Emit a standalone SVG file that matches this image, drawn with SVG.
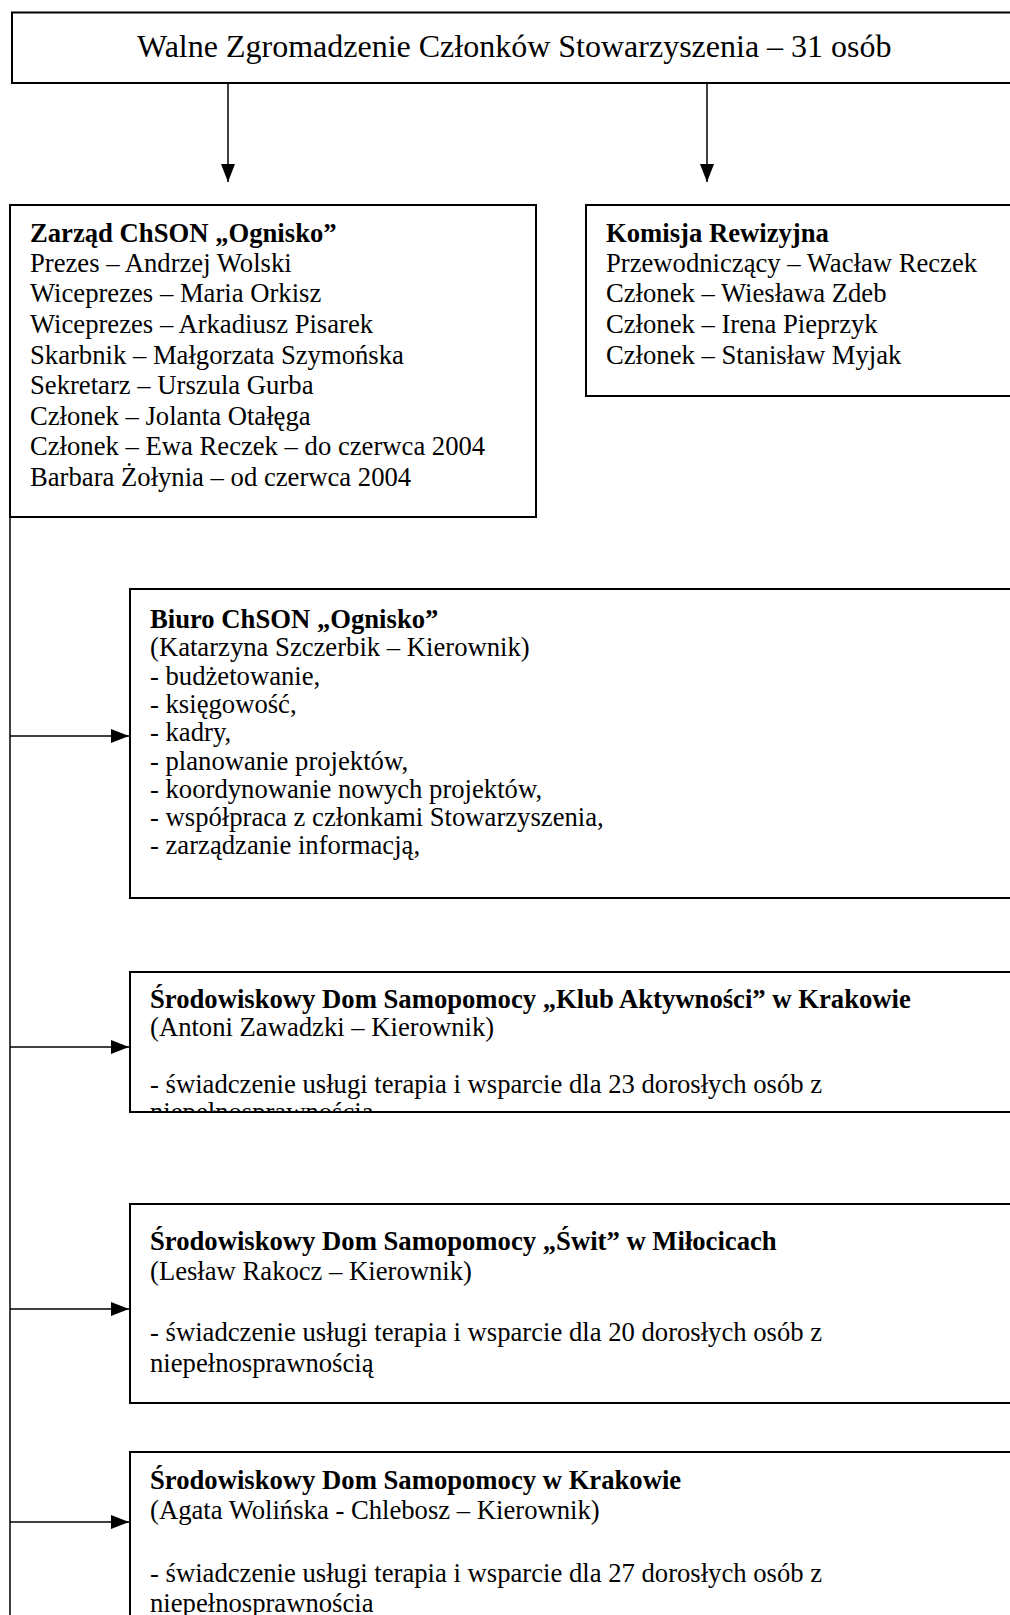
<svg xmlns="http://www.w3.org/2000/svg" width="1010" height="1615" viewBox="0 0 1010 1615">
<style>
.box{fill:#fff;stroke:#000;stroke-width:2}
.t{font-family:"Liberation Serif","Times New Roman",serif;font-size:26.67px;fill:#000}
.b{font-weight:bold}
.big{font-size:32px}
.c{fill:none;stroke:#000;stroke-width:1.5}
</style>
<defs>
<marker id="ah" markerUnits="userSpaceOnUse" markerWidth="19" markerHeight="15" refX="18" refY="7" orient="auto">
<path d="M0,0 L18,7 L0,14 Z" fill="#000"/>
</marker>
<clipPath id="clipKlub"><rect x="130" y="972" width="900" height="140"/></clipPath>
</defs>
<rect width="1010" height="1615" fill="#fff"/>

<g id="connectors">
<line class="c" x1="228" y1="83" x2="228" y2="182" marker-end="url(#ah)"/>
<line class="c" x1="707" y1="83" x2="707" y2="182" marker-end="url(#ah)"/>
<line class="c" x1="10" y1="517" x2="10" y2="1615"/>
<line class="c" x1="10" y1="736" x2="129" y2="736" marker-end="url(#ah)"/>
<line class="c" x1="10" y1="1047" x2="129" y2="1047" marker-end="url(#ah)"/>
<line class="c" x1="10" y1="1309" x2="129" y2="1309" marker-end="url(#ah)"/>
<line class="c" x1="10" y1="1522" x2="129" y2="1522" marker-end="url(#ah)"/>
</g>

<g id="walne">
<rect class="box" x="12" y="12.5" width="1020" height="70.5"/>
<text class="t big" x="137" y="57">Walne Zgromadzenie Członków Stowarzyszenia – 31 osób</text>
</g>

<g id="zarzad">
<rect class="box" x="10" y="205" width="526" height="312"/>
<text class="t b" x="30" y="241.5">Zarząd ChSON „Ognisko”</text>
<text class="t" x="30" y="271.8">Prezes – Andrzej Wolski</text>
<text class="t" x="30" y="302.4">Wiceprezes – Maria Orkisz</text>
<text class="t" x="30" y="333">Wiceprezes – Arkadiusz Pisarek</text>
<text class="t" x="30" y="363.6">Skarbnik – Małgorzata Szymońska</text>
<text class="t" x="30" y="394.2">Sekretarz – Urszula Gurba</text>
<text class="t" x="30" y="424.8">Członek – Jolanta Otałęga</text>
<text class="t" x="30" y="455.4">Członek – Ewa Reczek – do czerwca 2004</text>
<text class="t" x="30" y="486">Barbara Żołynia – od czerwca 2004</text>
</g>

<g id="komisja">
<rect class="box" x="586" y="205" width="450" height="191"/>
<text class="t b" x="606" y="241.5">Komisja Rewizyjna</text>
<text class="t" x="606" y="271.8">Przewodniczący – Wacław Reczek</text>
<text class="t" x="606" y="302.4">Członek – Wiesława Zdeb</text>
<text class="t" x="606" y="333">Członek – Irena Pieprzyk</text>
<text class="t" x="606" y="363.6">Członek – Stanisław Myjak</text>
</g>

<g id="biuro">
<rect class="box" x="130" y="589" width="900" height="309"/>
<text class="t b" x="150" y="628">Biuro ChSON „Ognisko”</text>
<text class="t" x="150" y="656.3">(Katarzyna Szczerbik – Kierownik)</text>
<text class="t" x="150" y="684.6">- budżetowanie,</text>
<text class="t" x="150" y="712.9">- księgowość,</text>
<text class="t" x="150" y="741.2">- kadry,</text>
<text class="t" x="150" y="769.5">- planowanie projektów,</text>
<text class="t" x="150" y="797.8">- koordynowanie nowych projektów,</text>
<text class="t" x="150" y="826.1">- współpraca z członkami Stowarzyszenia,</text>
<text class="t" x="150" y="854.4">- zarządzanie informacją,</text>
</g>

<g id="klub">
<rect class="box" x="130" y="972" width="900" height="140"/>
<g clip-path="url(#clipKlub)">
<text class="t b" x="150" y="1008">Środowiskowy Dom Samopomocy „Klub Aktywności” w Krakowie</text>
<text class="t" x="150" y="1036.3">(Antoni Zawadzki – Kierownik)</text>
<text class="t" x="150" y="1092.9">- świadczenie usługi terapia i wsparcie dla 23 dorosłych osób z</text>
<text class="t" x="150" y="1121.2">niepełnosprawnością</text>
</g>
<line x1="130" y1="1112" x2="1030" y2="1112" stroke="#000" stroke-width="2"/>
</g>

<g id="swit">
<rect class="box" x="130" y="1204" width="900" height="199"/>
<text class="t b" x="150" y="1249.6">Środowiskowy Dom Samopomocy „Świt” w Miłocicach</text>
<text class="t" x="150" y="1280.1">(Lesław Rakocz – Kierownik)</text>
<text class="t" x="150" y="1341.1">- świadczenie usługi terapia i wsparcie dla 20 dorosłych osób z</text>
<text class="t" x="150" y="1371.6">niepełnosprawnością</text>
</g>

<g id="krakow">
<rect class="box" x="130" y="1452" width="900" height="200"/>
<text class="t b" x="150" y="1489">Środowiskowy Dom Samopomocy  w Krakowie</text>
<text class="t" x="150" y="1519.3">(Agata Wolińska - Chlebosz – Kierownik)</text>
<text class="t" x="150" y="1581.5">- świadczenie usługi terapia i wsparcie dla 27 dorosłych osób z</text>
<text class="t" x="150" y="1612">niepełnosprawnościa</text>
</g>
</svg>
